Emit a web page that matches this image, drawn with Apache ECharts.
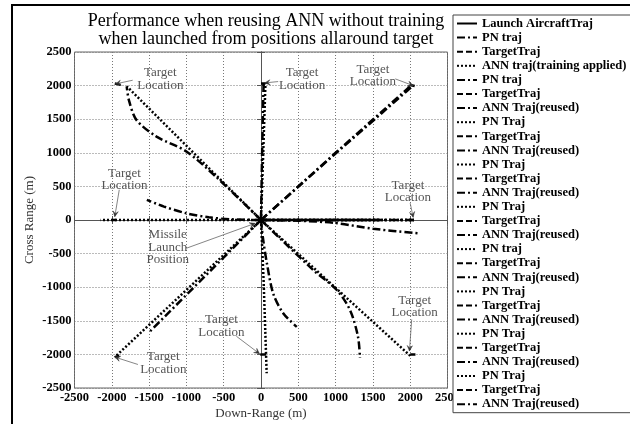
<!DOCTYPE html>
<html>
<head>
<meta charset="utf-8">
<script src="https://cdn.jsdelivr.net/npm/echarts@6/dist/echarts.min.js"></script>
<style>
html, body { margin: 0; padding: 0; background: #fff; }
#chart { width: 630px; height: 424px; }
</style>
</head>
<body>
<div id="chart"></div>
<script>
// ---- Chart text ----
const titleLines = [
  'Performance when reusing ANN without training',
  'when launched from positions allaround target'
];
const xAxisTitle = 'Down-Range (m)';
const yAxisTitle = 'Cross Range (m)';
const axisTicks = [-2500, -2000, -1500, -1000, -500, 0, 500, 1000, 1500, 2000, 2500];

// ---- Trajectories, [down-range, cross-range] in metres ----
const launchAircraftTraj = [[0, 0], [1600, 0]];

// east target, network trained for this case
const pnTrajE1 = [[0, 0], [2000, 0]];
const targetTrajE1 = [[2000, 0], [2050, 0]];
const annTrainedE = [[0, 0], [2050, 0]];

// north-east target
const pnTrajNE = [[0, 0], [1000, 990], [2040, 2000]];
const targetTrajNE = [[2000, 2010], [2060, 1995]];
const annTrajNE = [[0, 0], [1000, 1000], [2000, 1990]];

// north target
const pnTrajN = [[0, 0], [30, 1000], [60, 2040]];
const targetTrajN = [[0, 2030], [60, 2030]];
const annTrajN = [[0, 0], [15, 1000], [35, 2050]];

// north-west target
const pnTrajNW = [[0, 0], [-900, 995], [-1800, 1990]];
const targetTrajNW = [[-1960, 2030], [-1880, 2010]];
const annTrajNW = [[0, 0], [-600, 640], [-1000, 1020], [-1400, 1240], [-1670, 1490], [-1770, 1780], [-1800, 1990]];

// west target
const pnTrajW = [[0, 0], [-2150, 0]];
const targetTrajW = [[-2000, 0], [-1940, 0]];
const annTrajW = [[0, 0], [-400, 10], [-700, 40], [-1000, 100], [-1300, 200], [-1530, 300]];

// south-west target
const pnTrajSW = [[0, 0], [-1960, -2040]];
const targetTrajSW = [[-1960, -2040], [-1900, -2020]];
const annTrajSW = [[0, 0], [-1490, -1660]];

// south target
const pnTrajS = [[0, 0], [35, -900], [76, -2280]];
const targetTrajS = [[-10, -2000], [70, -2000]];
const annTrajS = [[0, 0], [30, -300], [80, -650], [165, -1100], [300, -1390], [480, -1590]];

// south-east target
const pnTrajSE = [[0, 0], [2000, -2020]];
const targetTrajSE = [[2000, -2000], [2070, -2000]];
const annTrajSE = [[0, 0], [700, -744], [1015, -1042], [1193, -1339], [1300, -1736], [1327, -2054]];

// east target, network reused
const pnTrajE2 = [[0, 0], [2040, 0]];
const targetTrajE2 = [[2000, 0], [2050, 0]];
const annTrajE2 = [[0, 0], [500, -10], [1000, -45], [1500, -130], [2130, -200]];

// legend order: label, points, line pattern
const traces = [
  ['Launch AircraftTraj', launchAircraftTraj, 'solid'],
  ['PN traj', pnTrajE1, 'dashdot'],
  ['TargetTraj', targetTrajE1, 'dash'],
  ['ANN traj(training applied)', annTrainedE, 'dot'],
  ['PN traj', pnTrajNE, 'dashdot'],
  ['TargetTraj', targetTrajNE, 'dash'],
  ['ANN Traj(reused)', annTrajNE, 'dashdot'],
  ['PN Traj', pnTrajN, 'dot'],
  ['TargetTraj', targetTrajN, 'dash'],
  ['ANN Traj(reused)', annTrajN, 'dashdot'],
  ['PN Traj', pnTrajNW, 'dot'],
  ['TargetTraj', targetTrajNW, 'dash'],
  ['ANN Traj(reused)', annTrajNW, 'dashdot'],
  ['PN Traj', pnTrajW, 'dot'],
  ['TargetTraj', targetTrajW, 'dash'],
  ['ANN Traj(reused)', annTrajW, 'dashdot'],
  ['PN traj', pnTrajSW, 'dot'],
  ['TargetTraj', targetTrajSW, 'dash'],
  ['ANN Traj(reused)', annTrajSW, 'dashdot'],
  ['PN Traj', pnTrajS, 'dot'],
  ['TargetTraj', targetTrajS, 'dash'],
  ['ANN Traj(reused)', annTrajS, 'dashdot'],
  ['PN Traj', pnTrajSE, 'dot'],
  ['TargetTraj', targetTrajSE, 'dash'],
  ['ANN Traj(reused)', annTrajSE, 'dashdot'],
  ['PN Traj', pnTrajE2, 'dot'],
  ['TargetTraj', targetTrajE2, 'dash'],
  ['ANN Traj(reused)', annTrajE2, 'dashdot']
];

// callouts: text lines, text centre, arrow tail, arrow tip (data units)
const calloutText = [
  ['Target', 'Location'], ['Target', 'Location'], ['Target', 'Location'],
  ['Target', 'Location'], ['Target', 'Location'], ['Missile', 'Launch', 'Position'],
  ['Target', 'Location'], ['Target', 'Location'], ['Target', 'Location']
];
const calloutAt = [[-1350, 2100], [550, 2100], [1500, 2150], [-1830, 600], [1970, 420], [-1250, -410], [-1310, -2130], [-530, -1580], [2060, -1290]];
const calloutTail = [[-1720, 2080], [230, 2060], [1800, 2100], [-1900, 450], [2000, 250], [-1000, -420], [-1650, -2150], [-330, -1730], [2020, -1480]];
const calloutTip = [[-1950, 2025], [50, 2040], [2040, 2000], [-1960, 50], [2040, 40], [-80, -50], [-1960, -2040], [-20, -1990], [1990, -1950]];

// ---- Styling ----
const SERIF = '"Liberation Serif", "Times New Roman", serif';
const dashPatterns = {
  solid: 'solid',
  dash: [6, 3],
  dot: [2, 2],
  dashdot: [8, 3, 2, 3]
};

const chart = echarts.init(document.getElementById('chart'), null, { renderer: 'canvas' });

const series = traces.map(function (t, i) {
  const curved = t[1].length > 3;
  return {
    name: t[0] + '#' + i,
    type: 'line',
    data: t[1],
    symbol: 'none',
    smooth: curved ? 0.3 : false,
    z: t[2] === 'solid' ? 4 : 3,
    animation: false,
    lineStyle: { color: '#000', width: 2.5, type: dashPatterns[t[2]] },
    itemStyle: { color: '#000' },
    emphasis: { disabled: true }
  };
});

const tickMin = axisTicks[0];
const tickMax = axisTicks[axisTicks.length - 1];
const tickStep = axisTicks[1] - axisTicks[0];
const gridLine = { show: true, lineStyle: { type: [1, 2], color: '#777', width: 1 } };
const tickLabel = {
  fontFamily: SERIF, fontSize: 12.5, fontWeight: 'bold', color: '#000',
  formatter: function (v) { return String(v); }
};

chart.setOption({
  backgroundColor: '#fff',
  animation: false,
  title: {
    text: titleLines.join('\n'),
    left: 261,
    top: 7,
    textAlign: 'center',
    textStyle: { fontFamily: SERIF, fontSize: 18, fontWeight: 'normal', color: '#000', lineHeight: 18 }
  },
  grid: {
    left: 74.5, right: 182.5, top: 52, bottom: 36,
    outerBoundsMode: 'none', containLabel: false,
    show: true, borderColor: '#666', borderWidth: 1
  },
  legend: {
    orient: 'vertical',
    left: 453,
    top: 15,
    padding: [2, 200, 2, 3],
    itemWidth: 20,
    itemHeight: 12,
    itemGap: 1.1,
    backgroundColor: '#fff',
    borderColor: '#444',
    borderWidth: 1,
    itemStyle: { color: 'transparent', borderWidth: 0, opacity: 0 },
    data: series.map(function (s) { return s.name; }),
    formatter: function (name) { return name.split('#')[0]; },
    textStyle: { fontFamily: SERIF, fontSize: 12.5, fontWeight: 'bold', color: '#000', lineHeight: 12 },
    selectedMode: false
  },
  xAxis: [{
    type: 'value', min: tickMin, max: tickMax, interval: tickStep,
    name: xAxisTitle, nameLocation: 'middle', nameGap: 19, nameMoveOverlap: false,
    nameTextStyle: { fontFamily: SERIF, fontSize: 13, color: '#333' },
    axisLine: { show: true, lineStyle: { color: '#555' } },
    axisTick: { show: true, inside: true, length: 4, lineStyle: { color: '#555' } },
    axisLabel: Object.assign({ margin: 3 }, tickLabel),
    splitLine: gridLine
  }, {
    type: 'value', min: tickMin, max: tickMax, interval: tickStep, position: 'top',
    axisLine: { show: true, lineStyle: { color: '#555' } },
    axisTick: { show: true, inside: true, length: 4, lineStyle: { color: '#555' } },
    axisLabel: { show: false }, splitLine: { show: false }
  }],
  yAxis: [{
    type: 'value', min: tickMin, max: tickMax, interval: tickStep,
    name: yAxisTitle, nameLocation: 'middle', nameGap: 38, nameRotate: 90, nameMoveOverlap: false,
    nameTextStyle: { fontFamily: SERIF, fontSize: 13, color: '#333' },
    axisLine: { show: true, lineStyle: { color: '#555' } },
    axisTick: { show: true, inside: true, length: 4, lineStyle: { color: '#555' } },
    axisLabel: Object.assign({ margin: 3 }, tickLabel),
    splitLine: gridLine
  }, {
    type: 'value', min: tickMin, max: tickMax, interval: tickStep, position: 'right',
    axisLine: { show: true, lineStyle: { color: '#555' } },
    axisTick: { show: true, inside: true, length: 4, lineStyle: { color: '#555' } },
    axisLabel: { show: false }, splitLine: { show: false }
  }],
  series: series
});

// ---- Callouts and page frame, placed through the axes' own scale ----
function toPx(p) { return chart.convertToPixel({ xAxisIndex: 0, yAxisIndex: 0 }, p); }

const graphics = [{
  type: 'rect',
  shape: { x: 12, y: 5, width: 800, height: 600 },
  style: { fill: 'none', stroke: '#000', lineWidth: 2 },
  silent: true, z: 0
}];

calloutText.forEach(function (lines, i) {
  const c = toPx(calloutAt[i]);
  const a = toPx(calloutTail[i]);
  const b = toPx(calloutTip[i]);
  graphics.push({
    type: 'text',
    x: c[0], y: c[1],
    style: {
      text: lines.join('\n'),
      fontFamily: SERIF, fontSize: 13, lineHeight: 12.5,
      fill: '#555', align: 'center', verticalAlign: 'middle'
    },
    silent: true, z: 10
  });
  graphics.push({
    type: 'line',
    shape: { x1: a[0], y1: a[1], x2: b[0], y2: b[1] },
    style: { stroke: '#666', lineWidth: 0.8 },
    silent: true, z: 10
  });
  const ang = Math.atan2(b[1] - a[1], b[0] - a[0]);
  const len = 6, spread = 0.45;
  graphics.push({
    type: 'polygon',
    shape: { points: [
      [b[0] - len * Math.cos(ang - spread), b[1] - len * Math.sin(ang - spread)],
      [b[0], b[1]],
      [b[0] - len * Math.cos(ang + spread), b[1] - len * Math.sin(ang + spread)],
      [b[0] - 0.5 * len * Math.cos(ang), b[1] - 0.5 * len * Math.sin(ang)]
    ] },
    style: { fill: '#333', stroke: '#333', lineWidth: 0.5 },
    silent: true, z: 10
  });
});

chart.setOption({ graphic: graphics });
</script>
</body>
</html>
